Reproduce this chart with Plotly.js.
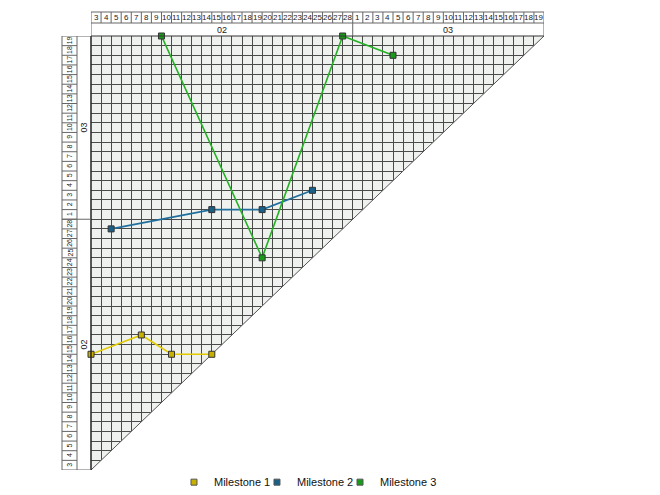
<!DOCTYPE html>
<html><head><meta charset="utf-8">
<script src="https://cdn.plot.ly/plotly-3.0.1.min.js"></script>
<style>html,body{margin:0;padding:0;background:#fff}#chart{width:660px;height:495px}</style>
</head><body><div id="chart"></div>
<script>
// ---- data ----
const startDate = '2023-02-03';
const dayLabels = [3,4,5,6,7,8,9,10,11,12,13,14,15,16,17,18,19,20,21,22,23,24,25,26,27,28,
                   1,2,3,4,5,6,7,8,9,10,11,12,13,14,15,16,17,18,19];
const monthLabels = ['02','03'];
const monthDayCounts = [26,19];
const seriesNames = ['Milestone 1','Milestone 2','Milestone 3'];
const m1Report   = ['2023-02-03','2023-02-08','2023-02-11','2023-02-15'];
const m1Forecast = ['2023-02-15','2023-02-17','2023-02-15','2023-02-15'];
const m2Report   = ['2023-02-05','2023-02-15','2023-02-20','2023-02-25'];
const m2Forecast = ['2023-02-28','2023-03-02','2023-03-02','2023-03-04'];
const m3Report   = ['2023-02-10','2023-02-20','2023-02-28','2023-03-05'];
const m3Forecast = ['2023-03-20','2023-02-25','2023-03-20','2023-03-18'];

const lineColors = ['#e2cc00','#1f6e9c','#22b222'];
const markerColors = ['#c8b000','#1a5f86','#1a9a1a'];

// ---- helpers ----
const t0 = Date.parse(startDate + 'T00:00:00Z');
const idx = d => (Date.parse(d + 'T00:00:00Z') - t0) / 864e5;
const N = dayLabels.length;
const legendIds = ['legend','legend2','legend3'];

const reports = [m1Report, m2Report, m3Report];
const forecasts = [m1Forecast, m2Forecast, m3Forecast];
const traces = [];
seriesNames.forEach((name, k) => {
  traces.push({
    type: 'scatter', mode: 'lines+markers', name: name, showlegend: false,
    x: reports[k].map(idx), y: forecasts[k].map(idx),
    line: {color: lineColors[k], width: 1.6},
    marker: {symbol: 'square', size: 6, color: markerColors[k], line: {color: '#333', width: 1}},
    cliponaxis: false, hoverinfo: 'skip'
  });
});
seriesNames.forEach((name, k) => {
  traces.push({
    type: 'scatter', mode: 'markers', name: name, showlegend: true, legend: legendIds[k],
    x: [null], y: [null],
    marker: {symbol: 'square', size: 6, color: markerColors[k], line: {color: '#555', width: 1}},
    hoverinfo: 'skip'
  });
});

const gridCol = '#4a4a4a';
const hdrCol = '#666';
const shapes = [];
shapes.push({type:'path', path:`M 0 0 L ${N} ${N} L ${N} 0 Z`, xref:'x', yref:'y',
  fillcolor:'#ffffff', line:{width:0}, layer:'between'});
shapes.push({type:'line', xref:'x', yref:'y', x0:0, y0:0, x1:N, y1:N,
  line:{color:'#555', width:1}, layer:'between'});
shapes.push({type:'line', xref:'paper', yref:'paper', x0:0, x1:0, y0:0, y1:1, line:{color:'#222', width:1.5}});
shapes.push({type:'line', xref:'paper', yref:'paper', x0:0, x1:1, y0:1, y1:1, line:{color:'#333', width:1}});

const topLine = (x0,x1,p0,p1) => shapes.push({type:'line', xref:'x', yref:'paper', ysizemode:'pixel', yanchor:1,
  x0:x0, x1:x1, y0:p0, y1:p1, line:{color:hdrCol, width:1}});
topLine(0, N, 24, 24);
topLine(0, N, 13, 13);
for (let i = 1; i < N; i++) topLine(i, i, 13, 24);
topLine(0, 0, 0, 24);
topLine(N, N, 0, 24);
topLine(monthDayCounts[0], monthDayCounts[0], 0, 13);

const leftLine = (q0,q1,y0,y1) => shapes.push({type:'line', xref:'paper', yref:'y', xsizemode:'pixel', xanchor:0,
  x0:q0, x1:q1, y0:y0, y1:y1, line:{color:hdrCol, width:1}});
leftLine(-29, -29, 0, N);
leftLine(-14, -14, 0, N);
for (let i = 1; i < N; i++) leftLine(-29, -14, i, i);
leftLine(-29, 0, 0, 0);
leftLine(-29, 0, N, N);
leftLine(-29, 0, monthDayCounts[0], monthDayCounts[0]);

const annotations = [];
const f = {family:'Liberation Sans, Arial, sans-serif', size:8, color:'#222'};
dayLabels.forEach((lab, i) => {
  annotations.push({xref:'x', yref:'paper', x:i+0.5, y:1, yshift:18.5, text:String(lab),
    showarrow:false, font:f, xanchor:'center', yanchor:'middle'});
  annotations.push({xref:'paper', yref:'y', x:0, xshift:-21.5, y:i+0.5, text:String(lab), textangle:-90,
    showarrow:false, font:{...f, size:7}, xanchor:'center', yanchor:'middle'});
});
let acc = 0;
monthLabels.forEach((lab, m) => {
  const c = acc + monthDayCounts[m] / 2;
  acc += monthDayCounts[m];
  annotations.push({xref:'x', yref:'paper', x:c, y:1, yshift:6.5, text:lab,
    showarrow:false, font:{...f, size:9}, xanchor:'center', yanchor:'middle'});
  annotations.push({xref:'paper', yref:'y', x:0, xshift:-7, y:c, text:lab, textangle:-90,
    showarrow:false, font:{...f, size:9}, xanchor:'center', yanchor:'middle'});
});

const axisCommon = {range:[0, N], tickmode:'linear', tick0:0, dtick:1, showgrid:true,
  gridcolor:gridCol, gridwidth:1, showticklabels:false, ticks:'', zeroline:false, showline:false, fixedrange:true};

const legendBase = {orientation:'h', xanchor:'left', y:-0.028, yanchor:'middle',
  font:{family:'Liberation Sans, Arial, sans-serif', size:11, color:'#111'},
  itemwidth:30, bgcolor:'rgba(0,0,0,0)'};
const legendX = [0.1832, 0.3664, 0.5497];

const layout = {
  width:660, height:495,
  margin:{l:91, r:116, t:36, b:25, autoexpand:false},
  paper_bgcolor:'#ffffff', plot_bgcolor:'#eef1ee',
  xaxis:{...axisCommon},
  yaxis:{...axisCommon},
  shapes:shapes, annotations:annotations,
  showlegend:true
};
legendIds.forEach((id, k) => { layout[id] = {...legendBase, x: legendX[k]}; });

Plotly.newPlot('chart', traces, layout, {staticPlot:true, displayModeBar:false});
</script></body></html>
